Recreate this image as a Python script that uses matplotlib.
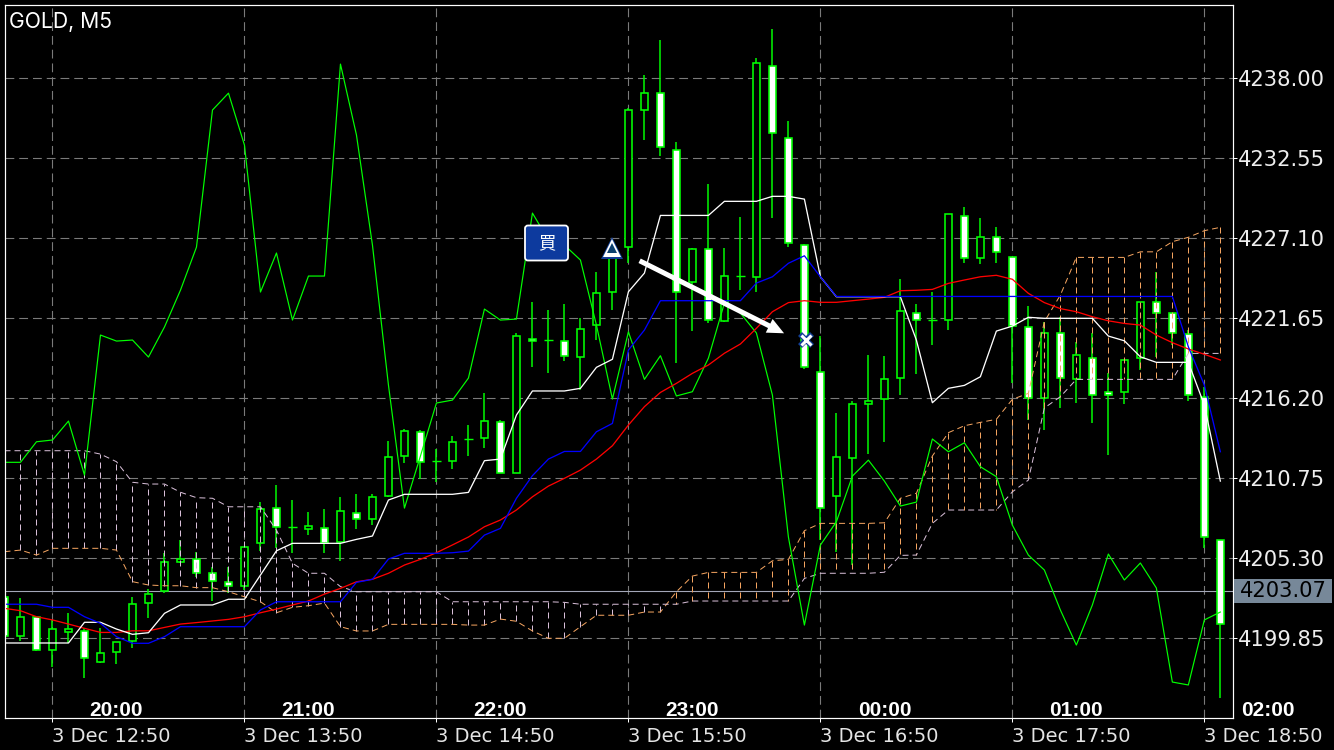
import numpy as np
import matplotlib
matplotlib.use('Agg')
import matplotlib.pyplot as plt
from matplotlib.patches import FancyBboxPatch, Rectangle
from matplotlib.transforms import blended_transform_factory, IdentityTransform

# candles (O H L C)
opens = [4202.64, 4200.03, 4201.28, 4199.07, 4200.30, 4200.32, 4198.26, 4198.90, 4199.69, 4202.24, 4203.05,
         4205.07, 4205.23, 4204.32, 4203.66, 4203.43, 4206.32, 4208.70, 4207.41, 4207.29, 4207.34, 4206.39,
         4208.40, 4207.95, 4209.56, 4212.25, 4213.92, 4211.90, 4211.90, 4213.41, 4213.47, 4214.60, 4211.09,
         4220.26, 4220.15, 4220.12, 4218.99, 4221.17, 4223.46, 4226.52, 4235.82, 4236.98, 4233.09, 4224.14,
         4226.35, 4221.48, 4224.51, 4224.48, 4238.81, 4233.91, 4226.62, 4218.01, 4209.52, 4212.11, 4215.81,
         4216.13, 4217.56, 4221.98, 4221.51, 4221.51, 4228.63, 4225.73, 4227.20, 4225.80, 4221.03, 4216.20,
         4220.63, 4217.49, 4218.97, 4216.60, 4216.60, 4218.92, 4222.74, 4221.98, 4220.56, 4216.31, 4206.57]
highs = [4202.64, 4202.62, 4201.30, 4201.10, 4201.55, 4200.55, 4200.53, 4199.58, 4202.68, 4203.21, 4205.64,
         4206.55, 4205.75, 4204.70, 4204.73, 4206.09, 4209.15, 4210.29, 4209.27, 4208.43, 4208.66, 4209.49,
         4209.68, 4209.68, 4213.29, 4214.10, 4214.04, 4212.74, 4213.63, 4214.38, 4216.58, 4214.72, 4220.63,
         4222.78, 4222.22, 4222.63, 4221.64, 4224.80, 4226.98, 4235.95, 4238.22, 4240.61, 4233.68, 4226.44,
         4230.80, 4226.42, 4228.57, 4239.40, 4241.36, 4235.09, 4226.71, 4220.44, 4215.17, 4216.03, 4219.15,
         4219.08, 4224.33, 4222.60, 4223.46, 4228.75, 4229.25, 4228.46, 4227.85, 4225.82, 4222.49, 4221.42,
         4221.76, 4220.05, 4220.65, 4217.90, 4218.82, 4222.76, 4224.82, 4222.00, 4220.85, 4217.00, 4206.57]
lows = [4200.03, 4199.69, 4199.00, 4197.92, 4199.55, 4197.13, 4198.19, 4198.12, 4199.19, 4201.21, 4202.96,
        4204.98, 4204.05, 4202.39, 4202.92, 4203.14, 4205.81, 4205.98, 4205.68, 4206.88, 4205.68, 4205.11,
        4207.29, 4207.56, 4209.49, 4211.81, 4210.70, 4210.52, 4211.38, 4212.29, 4212.83, 4211.09, 4211.09,
        4218.32, 4217.94, 4218.76, 4216.76, 4220.17, 4222.22, 4225.43, 4233.79, 4232.70, 4218.63, 4220.78,
        4221.32, 4221.39, 4223.57, 4223.46, 4228.50, 4226.52, 4218.20, 4206.55, 4205.73, 4204.84, 4212.40,
        4213.22, 4216.42, 4217.85, 4219.83, 4220.85, 4225.43, 4225.35, 4225.39, 4217.22, 4214.72, 4214.04,
        4215.52, 4215.90, 4214.53, 4212.33, 4215.81, 4218.13, 4219.01, 4219.83, 4216.01, 4205.98, 4195.76]
closes = [4200.03, 4201.28, 4199.07, 4200.46, 4200.48, 4198.53, 4198.83, 4199.58, 4202.17, 4202.85, 4205.03,
          4205.25, 4204.32, 4203.73, 4203.43, 4206.09, 4208.64, 4207.41, 4207.41, 4207.50, 4206.36, 4208.50,
          4207.95, 4209.49, 4212.18, 4213.99, 4211.84, 4211.90, 4213.24, 4213.41, 4214.63, 4211.09, 4220.47,
          4220.08, 4220.15, 4219.06, 4220.93, 4223.39, 4225.76, 4235.82, 4236.98, 4233.30, 4223.46, 4226.35,
          4221.55, 4224.51, 4224.51, 4239.02, 4234.25, 4226.76, 4218.32, 4208.70, 4212.22, 4215.79, 4216.01,
          4217.49, 4222.16, 4221.53, 4221.51, 4228.73, 4225.73, 4227.20, 4226.14, 4221.10, 4216.20, 4220.63,
          4217.56, 4219.13, 4216.40, 4216.40, 4218.82, 4222.74, 4222.03, 4220.63, 4216.40, 4206.73, 4200.80]

# ichimoku + MA
chikou = [4211.84, 4211.84, 4213.24, 4213.36, 4214.65, 4210.97, 4220.51, 4220.10, 4220.17, 4219.01, 4221.06,
          4223.57, 4226.50, 4235.84, 4236.99, 4233.45, 4223.44, 4226.10, 4221.53, 4224.53, 4224.53, 4238.97,
          4234.14, 4226.64, 4217.10, 4208.72, 4212.27, 4215.88, 4216.08, 4217.58, 4222.28, 4221.53, 4221.60,
          4228.82, 4226.98, 4226.64, 4225.62, 4221.19, 4216.15, 4220.73, 4217.49, 4219.10, 4216.36, 4216.65,
          4218.94, 4222.69, 4222.01, 4220.65, 4216.42, 4206.75, 4200.75, 4206.20, 4207.79, 4210.90, 4211.99,
          4210.56, 4208.86, 4209.13, 4213.43, 4212.56, 4213.17, 4211.54, 4210.86, 4207.56, 4205.52, 4204.50,
          4201.78, 4199.39, 4202.12, 4205.59, 4203.82, 4204.98, 4203.28, 4196.87, 4196.67, 4201.10, 4201.64]
tenkan = [4199.53, 4199.53, 4199.53, 4199.53, 4199.53, 4200.94, 4200.94, 4200.48, 4200.12, 4200.23, 4201.55,
          4202.12, 4202.12, 4202.12, 4202.51, 4202.51, 4204.16, 4205.81, 4206.32, 4206.32, 4206.32, 4206.32,
          4206.59, 4206.82, 4209.27, 4209.66, 4209.66, 4209.66, 4209.66, 4209.79, 4211.95, 4212.06, 4215.06,
          4216.70, 4216.70, 4216.70, 4216.88, 4218.31, 4218.86, 4223.46, 4224.73, 4228.66, 4228.66, 4228.66,
          4228.66, 4229.62, 4229.62, 4229.62, 4229.96, 4229.96, 4229.77, 4224.48, 4223.12, 4223.12, 4223.12,
          4223.12, 4223.12, 4220.17, 4215.90, 4216.88, 4217.08, 4217.67, 4220.78, 4221.12, 4221.72, 4221.65,
          4221.65, 4221.65, 4221.65, 4220.44, 4220.12, 4219.03, 4218.65, 4218.65, 4218.65, 4215.74, 4210.56]
kijun = [4202.17, 4202.17, 4202.17, 4201.96, 4201.96, 4201.32, 4200.87, 4199.96, 4199.51, 4199.51, 4199.96,
         4200.64, 4200.64, 4200.64, 4200.64, 4200.64, 4201.78, 4202.34, 4202.34, 4202.34, 4202.34, 4202.34,
         4203.66, 4203.87, 4205.25, 4205.64, 4205.64, 4205.64, 4205.68, 4205.79, 4206.88, 4207.34, 4209.39,
         4210.93, 4212.06, 4212.58, 4212.58, 4213.92, 4214.49, 4219.49, 4220.85, 4222.85, 4222.85, 4222.85,
         4222.85, 4222.85, 4222.85, 4224.05, 4224.48, 4225.40, 4225.91, 4224.48, 4223.14, 4223.14, 4223.14,
         4223.14, 4223.14, 4223.14, 4223.14, 4223.14, 4223.14, 4223.14, 4223.14, 4223.14, 4223.14, 4223.14,
         4223.14, 4223.14, 4223.14, 4223.14, 4223.14, 4223.14, 4223.14, 4223.14, 4219.71, 4217.10, 4212.56]
ma_red = [4201.89, 4201.73, 4201.32, 4201.10, 4200.82, 4200.53, 4200.25, 4200.25, 4200.36, 4200.36, 4200.59,
          4200.82, 4200.92, 4201.03, 4201.14, 4201.32, 4201.59, 4201.84, 4202.12, 4202.39, 4202.86, 4203.25,
          4203.70, 4203.87, 4204.28, 4204.84, 4205.23, 4205.68, 4206.21, 4206.75, 4207.45, 4207.91, 4208.59,
          4209.49, 4210.22, 4210.75, 4211.31, 4212.06, 4212.97, 4214.38, 4215.63, 4216.60, 4217.22, 4217.90,
          4218.47, 4219.27, 4219.90, 4220.97, 4222.10, 4222.72, 4222.85, 4222.74, 4222.74, 4222.85, 4222.96,
          4223.08, 4223.53, 4223.56, 4223.62, 4224.03, 4224.26, 4224.48, 4224.58, 4224.31, 4223.35, 4222.72,
          4222.31, 4222.10, 4221.76, 4221.48, 4221.30, 4221.19, 4220.51, 4219.99, 4219.56, 4219.20, 4218.81]
span_a = [4205.75, 4205.86, 4205.52, 4205.98, 4205.98, 4205.98, 4205.98, 4205.86, 4203.71, 4203.48, 4203.43,
          4203.43, 4203.30, 4203.30, 4203.02, 4202.68, 4202.34, 4201.59, 4201.96, 4202.07, 4202.25, 4200.64,
          4200.35, 4200.35, 4200.80, 4200.80, 4200.80, 4200.80, 4200.80, 4200.75, 4200.75, 4201.16, 4201.01,
          4200.35, 4199.85, 4199.85, 4200.64, 4201.42, 4201.42, 4201.42, 4201.64, 4201.64, 4203.02, 4204.09,
          4204.34, 4204.34, 4204.34, 4204.34, 4205.13, 4205.23, 4207.18, 4207.68, 4207.68, 4207.68, 4207.68,
          4207.72, 4209.39, 4209.73, 4212.27, 4213.86, 4214.33, 4214.56, 4214.77, 4216.13, 4216.54, 4221.42,
          4223.23, 4225.80, 4225.80, 4225.80, 4225.80, 4226.18, 4226.18, 4226.87, 4227.17, 4227.62, 4227.85]
span_b = [4212.63, 4212.63, 4212.63, 4212.63, 4212.63, 4212.63, 4212.40, 4211.88, 4210.48, 4210.36, 4210.36,
          4209.80, 4209.43, 4209.39, 4208.81, 4208.81, 4208.81, 4207.22, 4204.96, 4204.28, 4204.28, 4203.37,
          4203.02, 4203.02, 4203.02, 4203.02, 4203.02, 4203.02, 4202.34, 4202.34, 4202.34, 4202.34, 4202.34,
          4202.34, 4202.34, 4202.30, 4202.17, 4202.17, 4202.17, 4202.17, 4202.17, 4202.17, 4202.17, 4202.39,
          4202.39, 4202.39, 4202.39, 4202.39, 4202.39, 4202.39, 4203.93, 4204.28, 4204.28, 4204.28, 4204.28,
          4204.35, 4205.50, 4205.52, 4207.68, 4208.59, 4208.59, 4208.59, 4208.59, 4209.83, 4210.63, 4215.54,
          4216.31, 4217.49, 4217.49, 4217.49, 4217.49, 4217.49, 4217.49, 4217.49, 4219.26, 4219.26, 4219.26]

price_ticks = [4238.00, 4232.55, 4227.10, 4221.65, 4216.20, 4210.75, 4205.30, 4199.85]
date_tick_bars = [3, 15, 27, 39, 51, 63, 75]
date_labels = ['3 Dec 12:50', '3 Dec 13:50', '3 Dec 14:50', '3 Dec 15:50', '3 Dec 16:50', '3 Dec 17:50', '3 Dec 18:50']
local_bars = [7, 19, 31, 43, 55, 67, 79]
local_labels = ['20:00', '21:00', '22:00', '23:00', '00:00', '01:00', '02:00']
last_price = 4203.07
entry = (38, 4226.44)       # triangle
arrow_from = (39.7, 4225.57)
arrow_to = (48.73, 4220.63)
exit_mark = (50.1, 4220.17)

W, H = 1334, 750
LIME = '#00ff00'
SANDY = '#f4a460'
THISTLE = '#d8bfd8'
GRID = '#7a7a7a'
PX = 0.72  # 1 pixel in points at dpi 100
AXIS_FONT = ['DejaVu Sans']
TITLE_FONT = ['Inter', 'DejaVu Sans']


def draw_candles(ax):
    x = np.arange(len(opens))
    o = np.array(opens)
    c = np.array(closes)
    ax.vlines(x, lows, highs, color=LIME, lw=1.5 * PX, zorder=3, snap=True)
    bear = c < o
    thin = o == c
    tops = np.maximum(o, c)
    bots = np.minimum(o, c)
    # body outline is lime, bears filled white, bulls black
    ax.bar(x[~thin], (tops - bots)[~thin], bottom=bots[~thin], width=0.44,
           color=np.where(bear, 'white', 'black')[~thin], edgecolor=LIME, lw=1.6 * PX, zorder=4)
    ax.hlines(o[thin], x[thin] - 0.27, x[thin] + 0.27, color=LIME, lw=1.4 * PX, zorder=4, snap=True)


def draw_ichimoku(ax):
    x = np.arange(len(span_a))
    a = np.array(span_a)
    b = np.array(span_b)
    dash = (0, (6, 4))
    b_up = b > a
    ax.vlines(x[b_up], a[b_up], b[b_up], color=THISTLE, lw=PX, linestyles=[dash], zorder=5, snap=True)
    ax.vlines(x[~b_up], a[~b_up], b[~b_up], color=SANDY, lw=PX, linestyles=[dash], zorder=5, snap=True)
    ax.plot(x, a, color=SANDY, lw=PX, ls=dash, zorder=5)
    ax.plot(x, b, color=THISTLE, lw=PX, ls=dash, zorder=5)
    ax.plot(x, chikou, color=LIME, lw=1.2 * PX, zorder=6)
    ax.plot(x, ma_red, color='#ff0000', lw=1.3 * PX, zorder=6)
    ax.plot(x, tenkan, color='white', lw=1.3 * PX, zorder=6)
    ax.plot(x, kijun, color='#0000ff', lw=1.3 * PX, zorder=6)


def draw_trade(ax, fig):
    ax.annotate('', xy=arrow_to, xytext=arrow_from, zorder=8,
                arrowprops=dict(arrowstyle='simple,head_length=12,head_width=11,tail_width=3.6',
                                mutation_scale=1, color='white', lw=0, shrinkA=0, shrinkB=0))
    ax.plot(*entry, marker='^', ms=16, color='#123f96', mew=0, zorder=9)
    ax.plot(*entry, marker='^', ms=12.5, color='white', mew=0, zorder=9)
    ax.plot(*entry, marker='^', ms=7.5, color='#0b3f6e', mew=0, zorder=9)
    ax.plot(*exit_mark, marker='x', ms=8, color='#123f96', mew=4, zorder=9)
    ax.plot(*exit_mark, marker='x', ms=7, color='white', mew=2.2, zorder=9)
    # buy button
    fig.add_artist(FancyBboxPatch((525, H - 260.5), 43, 35, boxstyle='round,pad=0,rounding_size=3',
                                  fc='#0d3a9e', ec='white', lw=1.3, transform=IdentityTransform(), zorder=10))
    fig.text(546.5 / W, 1 - 243 / H, '買', color='white', fontsize=12.5, ha='center', va='center',
             family=['Noto Sans CJK JP', 'DejaVu Sans'], zorder=11)


def main():
    fig = plt.figure(figsize=(W / 100, H / 100), dpi=100, facecolor='black')
    ax = fig.add_axes([4.5 / W, 1 - 718 / H, 1228 / W, 713.5 / H], facecolor='black')
    ax.set_xlim(0, 76.76)
    ax.set_ylim(4194.42, 4243.03)

    for spine in ax.spines.values():
        spine.set_color('white')
        spine.set_linewidth(1.2 * PX)
        spine.set_zorder(12)

    ax.set_axisbelow(True)
    ax.grid(True, color=GRID, lw=1.1 * PX, ls=(0, (8, 4.5)), zorder=1)
    ax.axhline(last_price, color='#a3a7b8', lw=1.1 * PX, zorder=2)

    draw_candles(ax)
    draw_ichimoku(ax)
    draw_trade(ax, fig)

    # right price axis
    ax.yaxis.tick_right()
    ax.set_yticks(price_ticks)
    ax.set_yticklabels(['%.2f' % p for p in price_ticks], fontsize=15.2, family=AXIS_FONT, color='#eeeeee')
    ax.set_xticks(date_tick_bars)
    ax.set_xticklabels(date_labels, fontsize=14, family=AXIS_FONT, color='#e4e4e4', ha='left')
    ax.tick_params(axis='y', length=3.2, width=PX, color='white', pad=0.5)
    ax.tick_params(axis='x', length=3.2, width=PX, color='white', pad=3)

    # current price tag
    fig.add_artist(Rectangle((1234, H - 603), 98, 24, fc='#778899', ec='none',
                             transform=IdentityTransform(), zorder=13))
    fig.text(1283 / W, 1 - 591 / H, '%.2f' % last_price, color='black', fontsize=15.2, family=AXIS_FONT,
             ha='center', va='center', zorder=14)

    # local time row sits inside the frame
    trans = blended_transform_factory(ax.transData, ax.transAxes)
    for bar, label in zip(local_bars, local_labels):
        ax.text(bar, 0.0105, label, transform=trans, color='white', fontsize=15, weight='bold',
                family=['Liberation Sans', 'DejaVu Sans'], ha='center', va='center', clip_on=False, zorder=13)

    fig.text(9 / W, 1 - 22 / H, 'GOLD, M5', color='white', fontsize=15.2, family=TITLE_FONT, va='center', zorder=14)

    fig.savefig('out.png', dpi=100, facecolor='black')


if __name__ == '__main__':
    main()
